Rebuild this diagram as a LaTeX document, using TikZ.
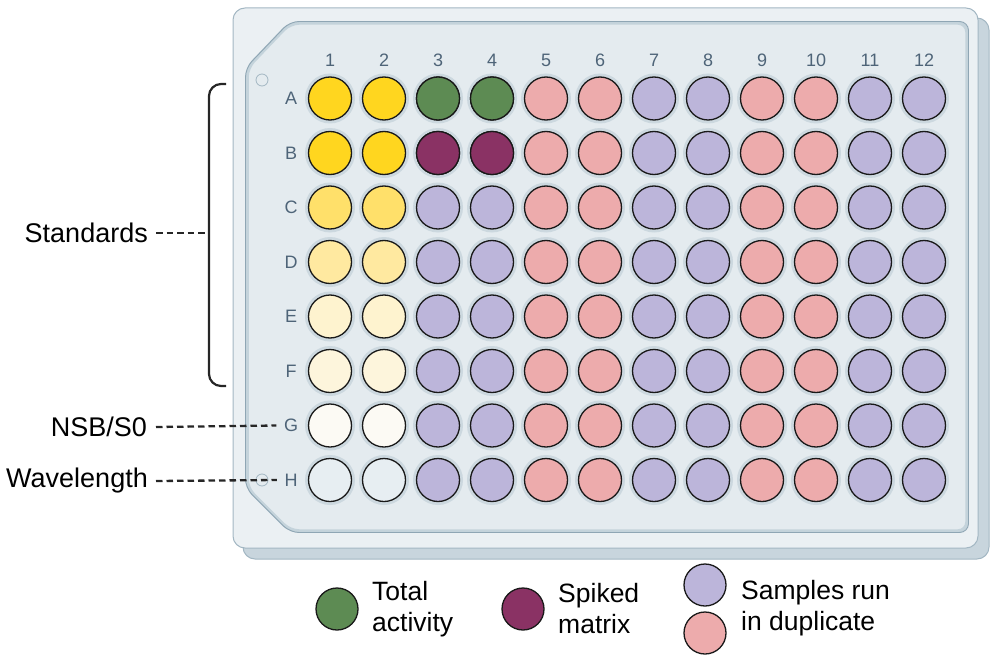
\documentclass[tikz,border=0pt]{standalone}
\usepackage{fontspec}
\setmainfont{Liberation Sans}
\definecolor{plateBase}{HTML}{C8D5DD}
\definecolor{plateEdge}{HTML}{A3B7C3}
\definecolor{plateTop}{HTML}{EBF0F3}
\definecolor{panelFill}{HTML}{E4EBEF}
\definecolor{panelLine}{HTML}{8FA6B4}
\definecolor{panelGlow}{HTML}{C4D3DB}
\definecolor{labelCol}{HTML}{4E6478}
\definecolor{haloCol}{HTML}{CCD8DF}
\definecolor{wY1}{HTML}{FFD61F}
\definecolor{wY2}{HTML}{FFE06A}
\definecolor{wY3}{HTML}{FFE9A0}
\definecolor{wY4}{HTML}{FEF3CF}
\definecolor{wY5}{HTML}{FDF5DC}
\definecolor{wY6}{HTML}{FCFAF4}
\definecolor{wY7}{HTML}{E7EEF2}
\definecolor{wGreen}{HTML}{5D8B53}
\definecolor{wMaroon}{HTML}{8A3264}
\definecolor{wLav}{HTML}{BCB5DA}
\definecolor{wPink}{HTML}{EDABAC}
\tikzset{
  well/.style={circle, minimum size=43pt, inner sep=0pt, draw=black!90, line width=1.3pt, fill=#1},
  halo/.style={circle, minimum size=50pt, inner sep=0pt, fill=haloCol},
  lgwell/.style={circle, minimum size=42pt, inner sep=0pt, draw=black!90, line width=1.3pt, fill=#1},
  collab/.style={text=labelCol, font=\fontsize{18}{21}\selectfont},
  sidelab/.style={font=\fontsize{27}{31}\selectfont, anchor=east, inner sep=0pt},
  lgtext/.style={font=\fontsize{26.5}{31}\selectfont, anchor=west, align=left, inner sep=0pt},
  leader/.style={dash pattern=on 6.5pt off 4pt, line width=2.3pt, black!85},
  hole/.style={circle, minimum size=12pt, inner sep=0pt, draw=plateEdge, line width=0.8pt}
}
\begin{document}
\begin{tikzpicture}[x=1pt,y=-1pt]
\useasboundingbox (0,0) rectangle (1000,663);
% plate
\draw[plateEdge, fill=plateBase, line width=1pt, rounded corners=12pt] (243,18) rectangle (989,559);
\draw[plateEdge, fill=plateTop, line width=1pt, rounded corners=12pt] (233,8) rectangle (978,548);
\draw[panelGlow, line width=3.5pt, fill=panelFill, rounded corners=9pt]
  (290,23) -- (967,23) -- (967,531) -- (290,531) -- (247,488) -- (247,68) -- cycle;
\draw[panelLine, line width=0.9pt, rounded corners=9pt]
  (290,21.5) -- (968.5,21.5) -- (968.5,532.5) -- (290,532.5) -- (245.5,488) -- (245.5,68) -- cycle;
\node[hole] (h1) at (262,80) {};
\node[hole] (h2) at (262,480) {};
% labels
\foreach \c in {1,...,12} {
  \node[collab] (c\c) at ({330+54*(\c-1)},60) {\c};
}
\foreach \r [count=\i from 0] in {A,B,C,D,E,F,G,H} {
  \node[collab] (r\r) at (291,{98.5+54.5*\i}) {\r};
}
% wells
\foreach \r [count=\i from 0] in {A,B,C,D,E,F,G,H} {
  \foreach \c in {1,...,12} {
    \node[halo] at ({330+54*(\c-1)},{98.5+54.5*\i}) {};
  }
}
\def\stdcols{{"wY1","wY1","wY2","wY3","wY4","wY5","wY6","wY7"}}
\foreach \r [count=\i from 0] in {A,B,C,D,E,F,G,H} {
  \pgfmathsetmacro{\sc}{\stdcols[\i]}
  \foreach \c in {1,2} {
    \node[well=\sc] (w\r\c) at ({330+54*(\c-1)},{98.5+54.5*\i}) {};
  }
  \foreach \c in {3,4,7,8,11,12} {
    \node[well=wLav] (w\r\c) at ({330+54*(\c-1)},{98.5+54.5*\i}) {};
  }
  \foreach \c in {5,6,9,10} {
    \node[well=wPink] (w\r\c) at ({330+54*(\c-1)},{98.5+54.5*\i}) {};
  }
}
\node[well=wGreen] (wA3) at (438,98.5) {};
\node[well=wGreen] (wA4) at (492,98.5) {};
\node[well=wMaroon] (wB3) at (438,153) {};
\node[well=wMaroon] (wB4) at (492,153) {};
% bracket and side labels
\coordinate (bt) at (226,84);
\coordinate (bb) at (226,386);
\coordinate (bm) at (209,233);
\draw[line width=2.2pt, black!85, rounded corners=12pt] (bt) -- (209,84) -- (209,386) -- (bb);
\node[sidelab] (std) at (148,233) {Standards};
\node[sidelab] (nsb) at (147,427) {NSB/S0};
\node[sidelab] (wav) at (148,481) {Wavelength};
\draw[leader] ([xshift=8pt]std.east) -- (bm);
\draw[leader] ([xshift=9pt]nsb.east) -- ([xshift=-4pt]rG.west);
\draw[leader] ([xshift=8pt]wav.east) -- ([xshift=-4pt]rH.west);
% legend
\node[lgwell=wGreen] (lg1) at (337,609) {};
\node[lgtext] (lt1) at (372,609) {Total\\activity};
\node[lgwell=wMaroon] (lg2) at (523,609) {};
\node[lgtext] (lt2) at (558,609) {Spiked\\matrix};
\node[lgwell=wLav] (lg3) at (705,585) {};
\node[lgwell=wPink] (lg4) at (705,633) {};
\node[lgtext] (lt3) at (741,608) {Samples run\\in duplicate};
\end{tikzpicture}
\end{document}
